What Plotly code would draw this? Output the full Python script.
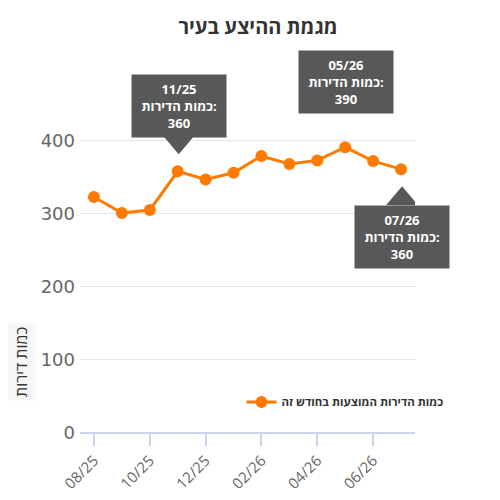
import plotly.graph_objects as go

# monthly supply of apartments in the city
months = ["08/25", "09/25", "10/25", "11/25", "12/25", "01/26",
          "02/26", "03/26", "04/26", "05/26", "06/26", "07/26"]
counts = [323, 301, 305, 358, 347, 356, 379, 368, 373, 391, 372, 361]

# callouts shown on the chart (month, which side of the point)
callout_months = ["11/25", "05/26", "07/26"]
callout_sides = ["up", "up", "down"]

tick_months = months[::2]

ORANGE = "#ff7a00"
BOX = "#595858"
FONT = "Open Sans, Liberation Sans, DejaVu Sans, sans-serif"
NUMFONT = "DejaVu Sans, Open Sans, sans-serif"

fig = go.Figure()
fig.add_trace(go.Scatter(
    x=months, y=counts,
    mode="lines+markers",
    name="כמות הדירות המוצעות בחודש זה",
    line=dict(color=ORANGE, width=3),
    marker=dict(color=ORANGE, size=12),
    cliponaxis=False,
))

for m, side in zip(callout_months, callout_sides):
    v = counts[months.index(m)]
    label = f"<b>{m}</b><br><b>כמות הדירות:</b><br><b>{int(round(v, -1))}</b>"
    sgn = 1 if side == "up" else -1
    fig.add_annotation(
        x=m, y=v, xref="x", yref="y",
        text=label, showarrow=False,
        font=dict(family=FONT, size=13, color="white"),
        bgcolor=BOX, borderpad=0, width=94, height=62,
        xshift=1, yshift=33 if side == "up" else -36,
        yanchor="bottom" if side == "up" else "top",
    )
    # little pointer under/over the box
    fig.add_shape(
        type="path", xref="x", yref="y",
        xsizemode="pixel", ysizemode="pixel",
        xanchor=m, yanchor=v,
        path=f"M 1 {17 * sgn} L -15 {36 * sgn} L 17 {36 * sgn} Z",
        fillcolor=BOX, line=dict(width=0),
    )

# axis title as an annotation so it sits low like the original
fig.add_annotation(
    x=-0.176, y=0.24, xref="paper", yref="paper",
    xanchor="center", yanchor="middle",
    text="כמות דירות", textangle=-90, showarrow=False,
    font=dict(family=FONT, size=16, color="#333333"),
    bgcolor="#f6f6f6", borderpad=3,
)

# page has an 8px body margin, so the margins are shifted by that
fig.update_layout(
    width=500, height=500,
    margin=dict(l=72, r=93, t=129, b=75),
    paper_bgcolor="white", plot_bgcolor="white",
    font=dict(family=FONT, color="#666666"),
    title=dict(
        text="<b>מגמת ההיצע בעיר</b>",
        x=0.5, xref="container", y=0.962, yref="container",
        xanchor="center", yanchor="middle",
        font=dict(family=FONT, size=20, color="#333333"),
    ),
    showlegend=True,
    legend=dict(
        x=1.1, xanchor="right", y=0.105, yanchor="middle",
        font=dict(family=FONT, size=11.5, color="#333333", weight="bold"),
        bgcolor="rgba(0,0,0,0)",
    ),
)

fig.update_xaxes(
    type="category",
    categoryorder="array", categoryarray=months,
    range=[-0.5, len(months) - 0.5],
    tickvals=tick_months, ticktext=tick_months,
    tickangle=-45,
    tickfont=dict(family=FONT, size=15, color="#666666"),
    ticks="outside", ticklen=12, tickcolor="#ccd6eb", tickwidth=1.5,
    showline=False, showgrid=False, zeroline=False,
)
fig.update_yaxes(
    range=[0, 405],
    tickvals=[0, 100, 200, 300, 400],
    tickfont=dict(family=NUMFONT, size=18, color="#666666"),
    showgrid=True, gridcolor="#e6e6e6", gridwidth=1,
    zeroline=True, zerolinecolor="#ccd6eb", zerolinewidth=1.5,
    ticks="", ticklabelstandoff=4,
)

fig.write_html("out.html")
